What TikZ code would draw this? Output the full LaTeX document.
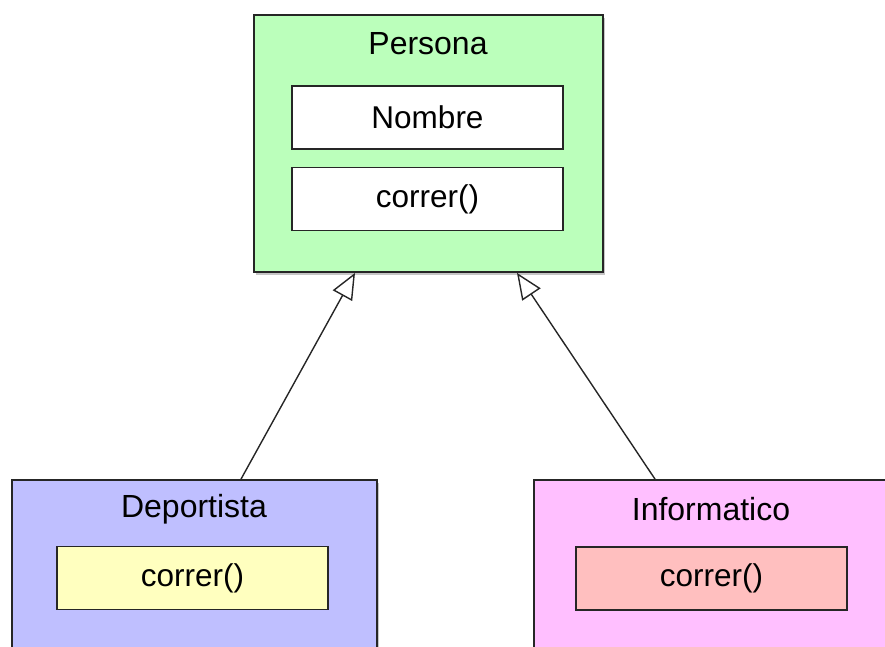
\documentclass[tikz,border=0pt]{standalone}
\usepackage{fontspec}
\setmainfont{Liberation Sans}
\usepackage{tikz}
\usetikzlibrary{positioning, arrows.meta, calc, shadows}
\definecolor{persona}{RGB}{187, 255, 187}
\definecolor{deportista}{RGB}{191, 191, 255}
\definecolor{informatico}{RGB}{255, 191, 255}
\definecolor{metodo-dep}{RGB}{255, 255, 191}
\definecolor{metodo-inf}{RGB}{255, 191, 191}
\tikzstyle{arrow} = [black!85, -{Triangle[open, length=26pt, width=22pt, fill=white]}, line width=1.4pt]
\newcommand{\tikzclassnode}[3]{\node[
  draw=black!85, line width=1.8pt, rectangle, minimum width=#2, minimum height=#3, fill=#1, inner sep=0,
  drop shadow={shadow xshift=2pt, shadow yshift=-3pt, opacity=0.45}
]}
\newcommand{\tikzfieldnode}[1]{\node[
  draw=black!85, line width=1.5pt, rectangle, minimum width=271pt, minimum height=63pt, fill=#1, inner sep=0,
  font=\fontsize{31.5pt}{35pt}\selectfont
]}
\newcommand{\tikztitlenode}{\node[
  draw=none, inner sep=0, font=\fontsize{32pt}{36pt}\selectfont
]}

\begin{document}
\begin{tikzpicture}[x=1pt, y=-1pt]
    \useasboundingbox (0, 0) rectangle (885, 646);
    \clip (0, 0) rectangle (885, 646);

    % nodes
    \tikzclassnode{persona}{349pt}{257pt}     at (428.5, 143.5)  (persona)  {};
    \tikztitlenode                            at (428, 44)       (personaT) {Persona};
    \tikzfieldnode{white}                     at (427.5, 117.5)  (nombre)   {Nombre};
    \tikzfieldnode{white} [below = 17pt of nombre]              (correrP)  {correr()};

    \tikzclassnode{deportista}{365pt}{220pt}  at (194.5, 590)    (dep)      {};
    \tikztitlenode                            at (194, 509)      (depT)     {Deportista};
    \tikzfieldnode{metodo-dep}                at (192.5, 578)    (correrD)  {correr()};

    \tikzclassnode{informatico}{380pt}{220pt} at (724, 590)      (inf)      {};
    \tikztitlenode                            at (711, 509)      (infT)     {Informatico};
    \tikzfieldnode{metodo-inf}                at (711.5, 578.5)  (correrI)  {correr()};

    % arrows
    \coordinate (depTop)  at (dep.north -| 241, 0);
    \coordinate (infTop)  at (inf.north -| 655, 0);
    \coordinate (perLeft)  at (persona.south -| 355, 0);
    \coordinate (perRight) at (persona.south -| 517, 0);
    \draw[arrow]  (depTop) -- (perLeft);
    \draw[arrow]  (infTop) -- (perRight);
  \end{tikzpicture}
\end{document}
